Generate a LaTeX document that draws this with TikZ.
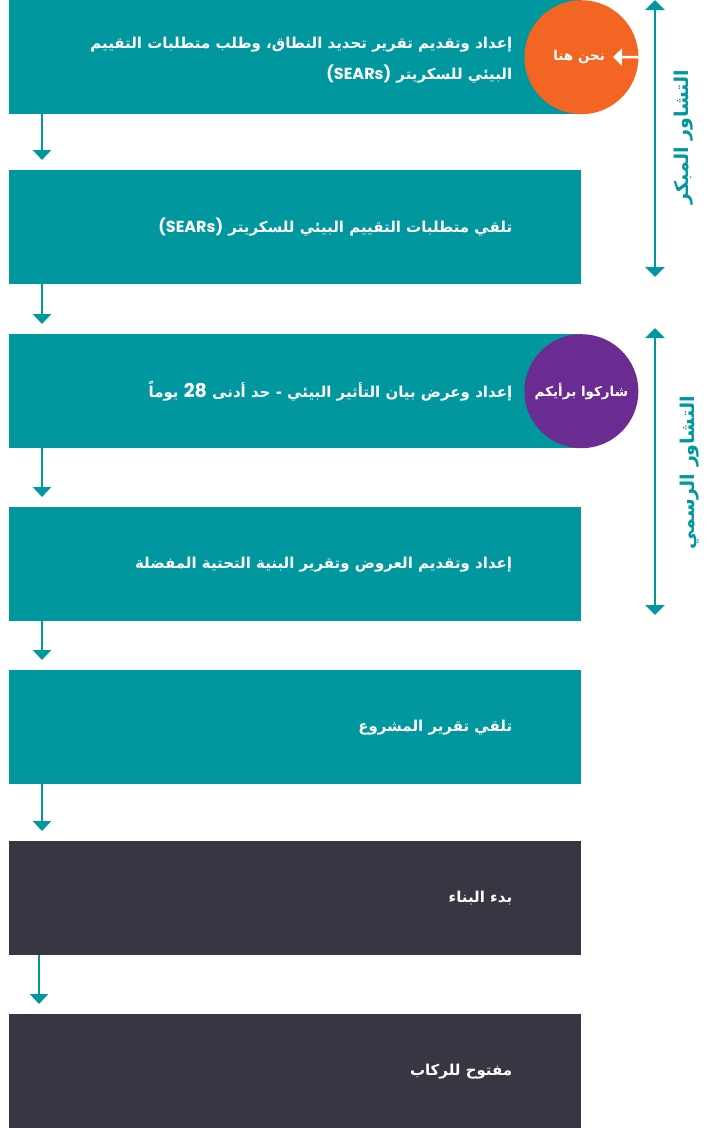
\documentclass[tikz,border=0pt]{standalone}
\usepackage{fontspec}
\setmainfont{DejaVu Sans}
\newfontfamily\arabicfont[Script=Arabic]{DejaVu Sans}
\newfontfamily\latinfont{Poppins}
\TeXXeTstate=1
\usetikzlibrary{arrows.meta}

\definecolor{stepteal}{RGB}{0,151,159}
\definecolor{stepdark}{RGB}{54,55,67}
\definecolor{stepnow}{RGB}{242,101,34}
\definecolor{stepsay}{RGB}{107,44,145}

\newcommand{\artxt}[1]{{\arabicfont\beginR #1\endR}}
\newcommand{\lattxt}[2]{\beginL{\latinfont\bfseries\fontsize{#1}{#1}\selectfont #2}\endL{}}

\begin{document}
\begin{tikzpicture}[x=1pt, y=-1pt,
	stage/.style={rectangle, fill=stepteal, minimum width=572pt, minimum height=114pt, inner sep=0pt, anchor=north west},
	buildstage/.style={stage, fill=stepdark},
	stagetext/.style={anchor=east, text=white, align=right, inner sep=0pt, font=\bfseries\fontsize{15}{31}\selectfont},
	flow/.style={draw=stepteal, line width=2.5pt, -{Triangle[width=18pt,length=10pt]}},
	phase/.style={draw=stepteal, line width=2.5pt, {Triangle[width=19pt,length=10pt]}-{Triangle[width=19pt,length=10pt]}},
	badge/.style={circle, minimum size=114pt, inner sep=0pt, text=white, font=\bfseries\fontsize{13.5}{15}\selectfont},
	phasetext/.style={text=stepteal, rotate=90, inner sep=0pt, font=\bfseries\fontsize{19}{21}\selectfont}]
	\useasboundingbox (0,0) rectangle (721,1128);

	\node[stage] (s1) at (9,0) {};
	\node[stage] (s2) at (9,170) {};
	\node[stage] (s3) at (9,334) {};
	\node[stage] (s4) at (9,507) {};
	\node[stage] (s5) at (9,670) {};
	\node[buildstage] (s6) at (9,841) {};
	\node[buildstage] (s7) at (9,1014) {};

	\node[stagetext] (t1) at ([xshift=-69pt,yshift=-3pt]s1.east) {\artxt{إعداد وتقديم تقرير تحديد النطاق، وطلب متطلبات التقييم}\\\artxt{البيئي للسكريتر \lattxt{16}{(SEARs)}}};
	\node[stagetext] (t2) at ([xshift=-69pt]s2.east) {\artxt{تلقي متطلبات التقييم البيئي للسكريتر \lattxt{16}{(SEARs)}}};
	\node[stagetext] (t3) at ([xshift=-69pt]s3.east) {\artxt{إعداد وعرض بيان التأثير البيئي - حد أدنى \lattxt{19}{28} يوماً}};
	\node[stagetext] (t4) at ([xshift=-69pt]s4.east) {\artxt{إعداد وتقديم العروض وتقرير البنية التحتية المفضلة}};
	\node[stagetext] (t5) at ([xshift=-69pt]s5.east) {\artxt{تلقي تقرير المشروع}};
	\node[stagetext] (t6) at ([xshift=-69pt]s6.east) {\artxt{بدء البناء}};
	\node[stagetext] (t7) at ([xshift=-69pt]s7.east) {\artxt{مفتوح للركاب}};

	\draw[flow] ([xshift=33pt]s1.south west) -- ([xshift=33pt,yshift=10pt]s2.north west);
	\draw[flow] ([xshift=33pt]s2.south west) -- ([xshift=33pt,yshift=10pt]s3.north west);
	\draw[flow] ([xshift=33pt]s3.south west) -- ([xshift=33pt,yshift=10pt]s4.north west);
	\draw[flow] ([xshift=33pt]s4.south west) -- ([xshift=33pt,yshift=10pt]s5.north west);
	\draw[flow] ([xshift=33pt]s5.south west) -- ([xshift=33pt,yshift=10pt]s6.north west);
	\draw[flow] ([xshift=30pt]s6.south west) -- ([xshift=30pt,yshift=10pt]s7.north west);

	\node[badge, fill=stepnow] (now) at (s1.east) {};
	\node[badge, anchor=east, minimum size=0pt] (nowtxt) at (606,57) {\artxt{نحن هنا}};
	\coordinate (nowtip) at (613,57);
	\draw[white, line width=2.5pt, -{Triangle[width=17pt,length=9pt]}] (now.east) -- (nowtip);
	\node[badge, fill=stepsay] (say) at (s3.east) {\artxt{شاركوا برأيكم}};

	\coordinate (e1) at (655,0);
	\coordinate (e2) at (655,277);
	\coordinate (f1) at (655,328);
	\coordinate (f2) at (655,615);
	\draw[phase] (e1) -- (e2);
	\draw[phase] (f1) -- (f2);
	\node[phasetext] (early) at (684,137) {\artxt{التشاور المبكر}};
	\node[phasetext] (formal) at (690,473) {\artxt{التشاور الرسمي}};
\end{tikzpicture}
\end{document}
